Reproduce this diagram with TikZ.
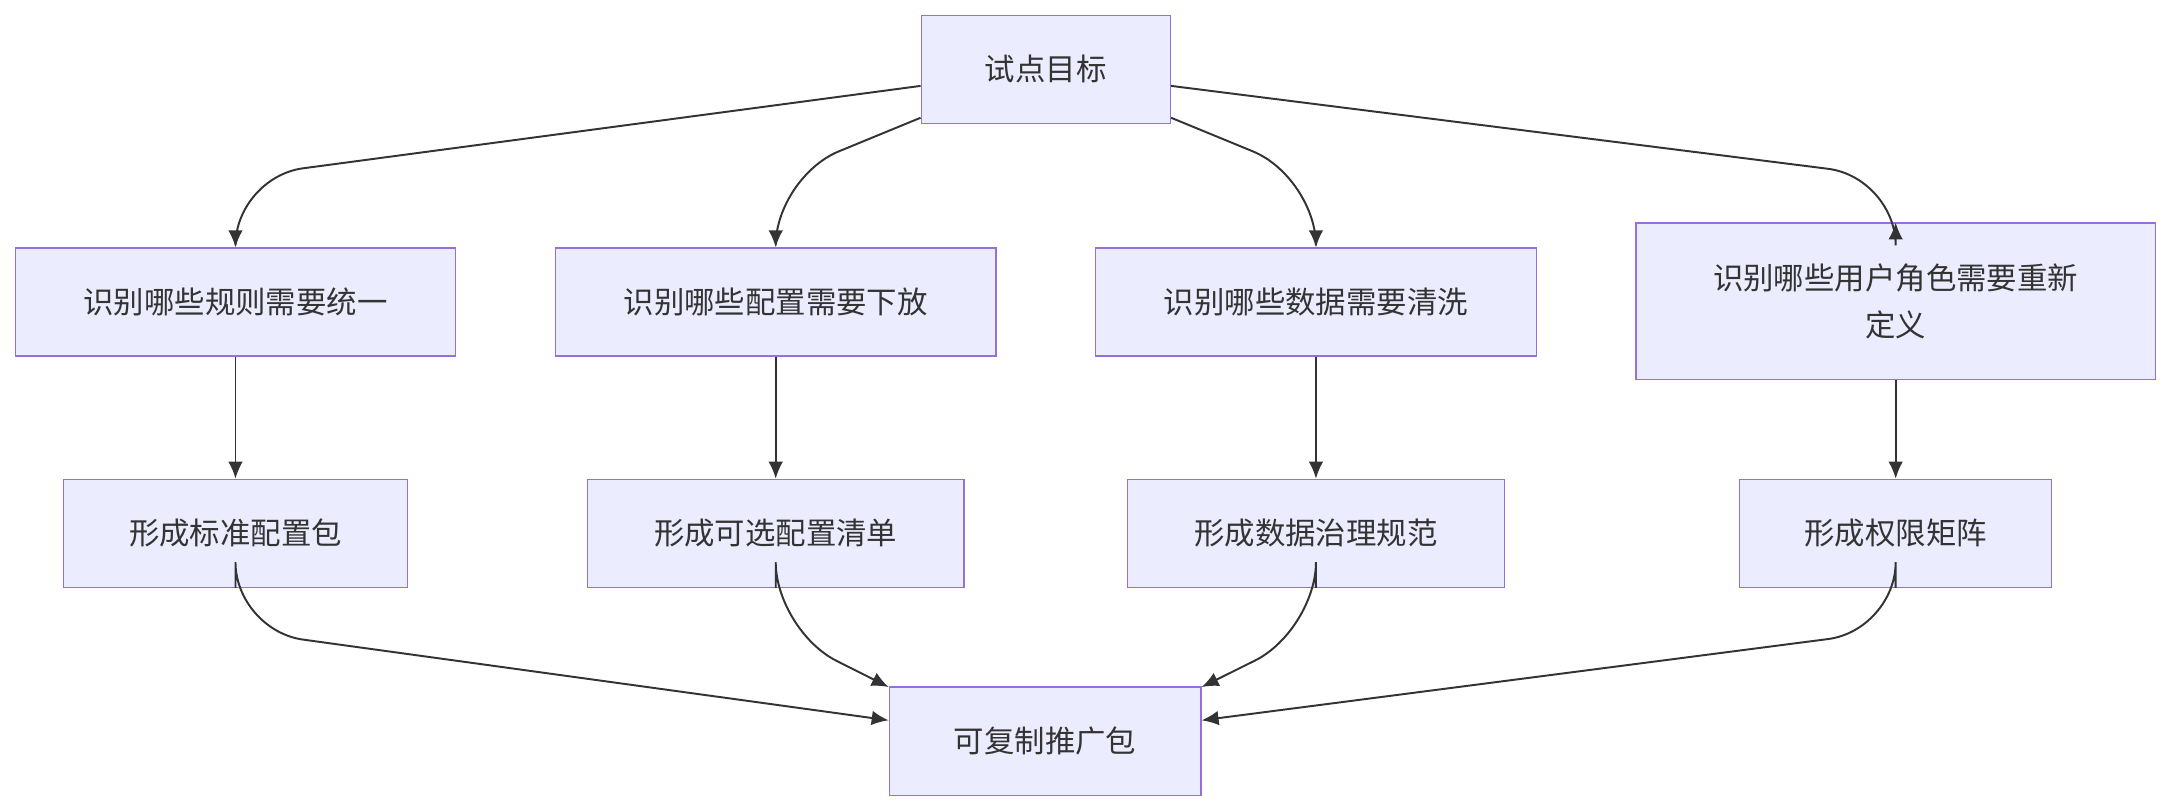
\documentclass[tikz,border=0pt]{standalone}
\usepackage{fontspec}
\setmainfont{Noto Sans CJK SC}
\usetikzlibrary{arrows.meta}
\definecolor{boxfill}{HTML}{ECECFF}
\definecolor{boxline}{HTML}{9370DB}
\definecolor{edge}{HTML}{333333}
\tikzset{
  box/.style={draw=boxline, fill=boxfill, line width=0.5pt, inner sep=0pt, align=center,
    font=\fontsize{12.5pt}{19pt}\selectfont, text=edge},
  flow/.style={draw=edge, line width=0.8pt, -{Latex[length=7pt,width=6pt]}, rounded corners=28pt}
}
\begin{document}
\begin{tikzpicture}[x=0.02cm, y=-0.02cm]
\useasboundingbox (0,0) rectangle (1568,586);
                \node[box, minimum width=3.6cm, minimum height=1.56cm] (goal) at (755,50) {试点目标};

                \node[box, minimum width=6.36cm, minimum height=1.56cm] (rule) at (170,218) {识别哪些规则需要统一};
                \node[box, minimum width=6.36cm, minimum height=1.56cm] (conf) at (560,218) {识别哪些配置需要下放};
                \node[box, minimum width=6.36cm, minimum height=1.56cm] (data) at (950,218) {识别哪些数据需要清洗};
                \node[box, minimum width=7.5cm, minimum height=2.26cm] (role) at (1368.5,217.5) {识别哪些用户角色需要重新\\定义};

                \node[box, minimum width=4.96cm, minimum height=1.56cm] (std) at (170,385) {形成标准配置包};
                \node[box, minimum width=5.44cm, minimum height=1.56cm] (opt) at (560,385) {形成可选配置清单};
                \node[box, minimum width=5.44cm, minimum height=1.56cm] (gov) at (950,385) {形成数据治理规范};
                \node[box, minimum width=4.5cm, minimum height=1.56cm] (perm) at (1368.5,385) {形成权限矩阵};

                \node[box, minimum width=4.5cm, minimum height=1.56cm] (pkg) at (754.5,535) {可复制推广包};

                \draw[flow] (goal.west |- 0,62) -- (170,128) -- (rule.north);
                \draw[flow] (goal.west |- 0,85) -- (560,128) -- (conf.north);
                \draw[flow] (goal.east |- 0,85) -- (950,128) -- (data.north);
                \draw[flow] (goal.east |- 0,62) -- (1368.5,128) -- (role.north);

                \draw[flow] (rule) -- (std);
                \draw[flow] (conf) -- (opt);
                \draw[flow] (data) -- (gov);
                \draw[flow] (role) -- (perm);

                \draw[flow] (std.south) -- (170,455) -- (pkg.west |- 0,520);
                \draw[flow] (opt.south) -- (560,455) -- (pkg.north west |- 652,496);
                \draw[flow] (gov.south) -- (950,455) -- (pkg.north east |- 858,496);
                \draw[flow] (perm.south) -- (1368.5,455) -- (pkg.east |- 0,520);
\end{tikzpicture}
\end{document}
